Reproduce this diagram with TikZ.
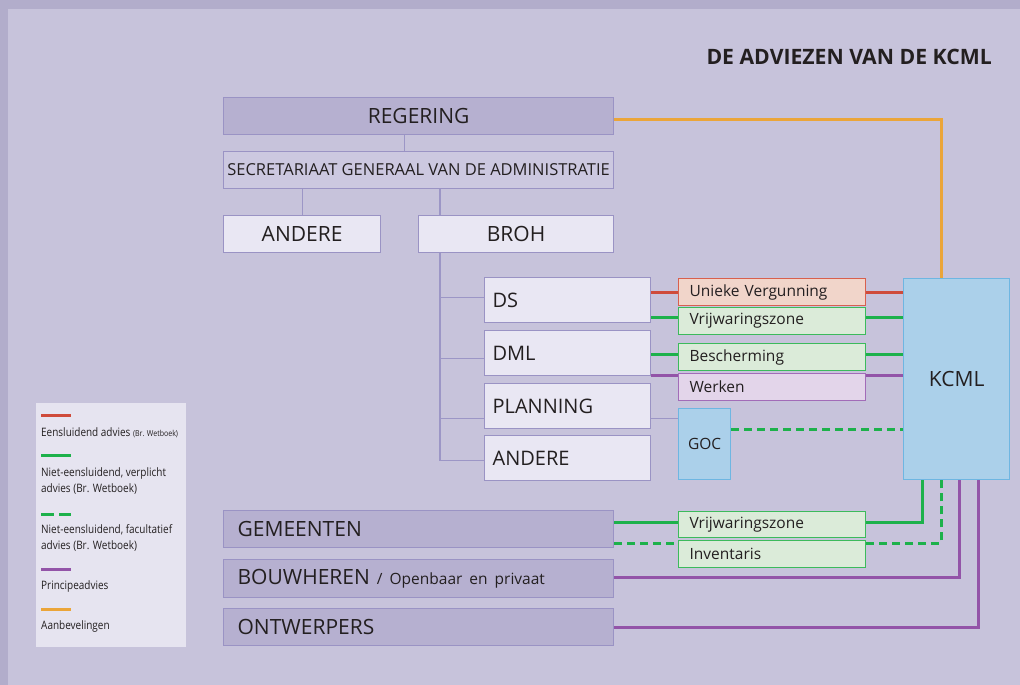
\documentclass[tikz,border=0pt]{standalone}
\usepackage{fontspec}
\setmainfont{Open Sans}
\newfontfamily\narrowfont[FakeStretch=0.86]{Open Sans}
\usetikzlibrary{positioning,calc}

\definecolor{framecol}{HTML}{B2ADCB}
\definecolor{canvascol}{HTML}{C7C3DB}
\definecolor{govfill}{HTML}{B6B0D0}
\definecolor{boxline}{HTML}{9A93C4}
\definecolor{sgafill}{HTML}{CCC8E0}
\definecolor{lightfill}{HTML}{E9E7F3}
\definecolor{treecol}{HTML}{9C96C6}
\definecolor{legendfill}{HTML}{E6E4F0}
\definecolor{redcol}{HTML}{CF4B3B}
\definecolor{redfill}{HTML}{F1D5CA}
\definecolor{redline}{HTML}{D8604E}
\definecolor{greencol}{HTML}{1DB14B}
\definecolor{greenfill}{HTML}{DBEBD9}
\definecolor{greenline}{HTML}{3CBA5C}
\definecolor{purplecol}{HTML}{9354A8}
\definecolor{purplefill}{HTML}{E3D5EA}
\definecolor{purpleline}{HTML}{A26CB8}
\definecolor{orangecol}{HTML}{EBA539}
\definecolor{kcmlfill}{HTML}{ABD0EA}
\definecolor{kcmlline}{HTML}{6EB6E2}
\definecolor{inkcol}{HTML}{231F20}

\tikzset{
    govbox/.style={draw=boxline, fill=govfill, line width=1.2pt,
        inner sep=0pt, anchor=north west, text=inkcol,
        minimum width=390pt, minimum height=37pt,
        font=\fontsize{21}{24}\selectfont},
    leftgov/.style={govbox, inner xsep=14pt, text width=362pt, align=left},
    lightbox/.style={govbox, fill=lightfill},
    dirbox/.style={lightbox, minimum width=166pt, minimum height=45pt,
        inner xsep=8pt, text width=150pt, align=left,
        font=\fontsize{20}{24}\selectfont},
    advbox/.style={draw=greenline, fill=greenfill, line width=1.2pt,
        inner xsep=11pt, inner ysep=0pt, anchor=north west, text=inkcol,
        text width=165pt, align=left, minimum height=27pt,
        font=\fontsize{15.5}{18}\selectfont},
    bluebox/.style={draw=kcmlline, fill=kcmlfill, line width=1.2pt,
        inner sep=0pt, anchor=north west, text=inkcol},
    tree/.style={draw=treecol, line width=1.2pt},
    link/.style={line width=3pt},
    legtext/.style={anchor=base west, inner sep=0pt, text=inkcol,
        font=\narrowfont\fontsize{11.6}{13}\selectfont}
}

\begin{document}
\begin{tikzpicture}[x=1pt, y=-1pt]

    \useasboundingbox (0,0) rectangle (1020,685);
    \fill[framecol] (0,0) rectangle (1020,685);
    \fill[canvascol] (8,9) rectangle (1020,685);

    % title
    \node[anchor=base east, inner sep=0pt, text=inkcol,
        font=\bfseries\fontsize{21.2}{24}\selectfont
    ] (title) at (992,65) {DE ADVIEZEN VAN DE KCML};

    % regering
    \node[govbox] (regering) at (223,97) {REGERING};

    % secretariaat
    \node[govbox,
        fill=sgafill,
        font=\fontsize{16.5}{20}\selectfont
    ] (sga) at (223,151) {SECRETARIAAT GENERAAL VAN DE ADMINISTRATIE};

    % andere / broh
    \node[lightbox, minimum width=157pt] (andere) at (223,215) {ANDERE};
    \node[lightbox, minimum width=195pt] (broh) at (418,215) {BROH};

    % directies
    \node[dirbox] (ds) at (484,277) {DS};
    \node[dirbox, below=6.8pt of ds] (dml) {DML};
    \node[dirbox, below=6.8pt of dml] (planning) {PLANNING};
    \node[dirbox, below=5.8pt of planning] (anderetwo) {ANDERE};

    % adviezen
    \node[advbox,
        draw=redline,
        fill=redfill
    ] (unieke) at (678,278) {Unieke Vergunning};
    \node[advbox, below=0.8pt of unieke] (vz) {Vrijwaringszone};
    \node[advbox, below=7.8pt of vz] (besch) {Bescherming};
    \node[advbox,
        draw=purpleline,
        fill=purplefill,
        below=1.8pt of besch
    ] (werken) {Werken};

    % goc
    \node[bluebox,
        minimum width=52pt,
        minimum height=71pt,
        font=\fontsize{15.5}{19}\selectfont
    ] (goc) at (678,408) {GOC};

    % kcml
    \node[bluebox,
        minimum width=106pt,
        minimum height=201pt,
        font=\fontsize{21}{24}\selectfont
    ] (kcml) at (903,278) {KCML};

    % gemeenten, bouwheren, ontwerpers
    \node[leftgov] (gem) at (223,510) {GEMEENTEN};
    \node[leftgov, minimum height=38pt, below=10.8pt of gem] (bouw)
        {BOUWHEREN {\fontsize{15.5}{18}\selectfont / Openbaar en privaat}};
    \node[leftgov, below=9.8pt of bouw] (ontw) {ONTWERPERS};

    \node[advbox, minimum height=26pt] (vztwo) at (678,511) {Vrijwaringszone};
    \node[advbox, below=1.8pt of vztwo] (inv) {Inventaris};

    % tree
    \coordinate (trunk) at ([xshift=22pt]broh.south west);
    \coordinate (bds) at ([yshift=3pt]ds.west);
    \coordinate (bdml) at ([yshift=-5pt]dml.west);
    \coordinate (bplan) at ([yshift=-12pt]planning.west);
    \coordinate (bandere) at ([yshift=-2pt]anderetwo.west);

    \draw[tree] ([xshift=-14pt]regering.south) -- ([xshift=-14pt]sga.north);
    \draw[tree] (sga.south -| andere.north) -- (andere.north);
    \draw[tree] (sga.south -| trunk) -- (trunk |- broh.north);
    \draw[tree] (trunk) |- (bandere);
    \draw[tree] (trunk |- bds) -- (bds);
    \draw[tree] (trunk |- bdml) -- (bdml);
    \draw[tree] (trunk |- bplan) -- (bplan);
    \draw[tree] (bplan -| planning.east) -- (bplan -| goc.west);

    % links to kcml
    \draw[link, redcol] (unieke.west -| ds.east) -- (unieke.west);
    \draw[link, redcol] (unieke.east) -- (unieke.east -| kcml.west);

    \coordinate (gvz) at ([yshift=4pt]vz.west);
    \draw[link, greencol] (gvz -| ds.east) -- (gvz);
    \draw[link, greencol] (gvz -| vz.east) -- (gvz -| kcml.west);

    \coordinate (gbe) at ([yshift=3pt]besch.west);
    \draw[link, greencol] (gbe -| dml.east) -- (gbe);
    \draw[link, greencol] (gbe -| besch.east) -- (gbe -| kcml.west);

    \coordinate (pwe) at ([yshift=-2pt]werken.north west);
    \draw[link, purplecol] (pwe -| dml.east) -- (pwe);
    \draw[link, purplecol] (pwe -| werken.east) -- (pwe -| kcml.west);

    \coordinate (dgoc) at ([yshift=14.5pt]goc.east);
    \draw[link, greencol, dash pattern=on 8pt off 5pt] (dgoc) -- (dgoc -| kcml.west);

    \draw[link, orangecol] ([yshift=-3.5pt]regering.east)
        -| ([xshift=38pt]kcml.north west);

    \coordinate (gvt) at ([yshift=2pt]vztwo.west);
    \draw[link, greencol] (gvt -| gem.east) -- (gvt);
    \draw[link, greencol] (gvt -| vztwo.east) -| ([xshift=19pt]kcml.south west);

    \coordinate (dinv) at ([yshift=10.5pt]inv.west);
    \draw[link, greencol, dash pattern=on 8pt off 5pt] (dinv -| gem.east) -- (dinv);
    \draw[link, greencol, dash pattern=on 8pt off 5pt] (dinv -| inv.east)
        -| ([xshift=38pt]kcml.south west);

    \draw[link, purplecol] ([yshift=1pt]bouw.east) -| ([xshift=56pt]kcml.south west);
    \draw[link, purplecol] (ontw.east) -| ([xshift=75pt]kcml.south west);

    % legend
    \node[draw=none, fill=legendfill, anchor=north west,
        minimum width=150pt, minimum height=244pt, inner sep=0pt
    ] (legend) at (36,403) {};

    \draw[link, redcol] (41,415) -- ++(30,0);
    \node[legtext] (leg1) at (41,436) {Eensluidend advies
        {\fontsize{8.2}{9}\selectfont(Br. Wetboek)}};

    \draw[link, greencol] (41,455) -- ++(30,0);
    \node[legtext] (leg2) at (41,476) {Niet-eensluidend, verplicht};
    \node[legtext] (leg2b) at (41,492) {advies (Br. Wetboek)};

    \draw[link, greencol, dash pattern=on 13pt off 5pt] (41,514) -- ++(30,0);
    \node[legtext] (leg3) at (41,533) {Niet-eensluidend, facultatief};
    \node[legtext] (leg3b) at (41,549) {advies (Br. Wetboek)};

    \draw[link, purplecol] (41,569) -- ++(30,0);
    \node[legtext] (leg4) at (41,589) {Principeadvies};

    \draw[link, orangecol] (41,609) -- ++(30,0);
    \node[legtext] (leg5) at (41,629) {Aanbevelingen};

\end{tikzpicture}
\end{document}
